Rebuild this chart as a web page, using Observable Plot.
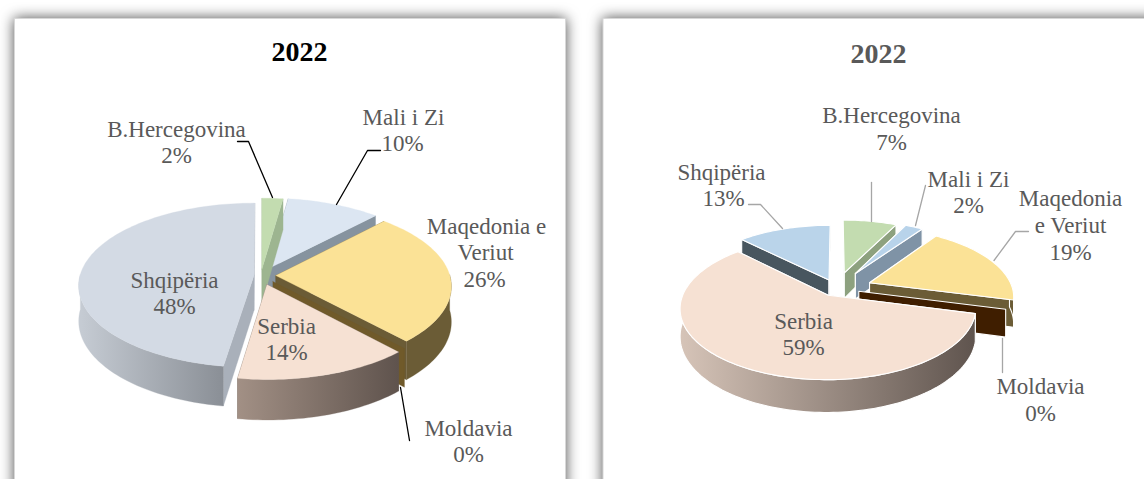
<!DOCTYPE html>
<html>
<head>
<meta charset="utf-8">
<script src="https://cdn.jsdelivr.net/npm/d3@7"></script>
<script src="https://cdn.jsdelivr.net/npm/@observablehq/plot@0.6"></script>
<style>html,body{margin:0;padding:0;background:#fff;overflow:hidden}svg{display:block}</style>
</head>
<body>
<div id="chart"></div>
<script>
// ---- data ----
const categories = ["B.Hercegovina", "Mali i Zi", "Maqedonia e Veriut", "Moldavia", "Serbia", "Shqipëria"];
const leftValues = [2.2, 9.8, 26.2, 0, 14.2, 47.6];
const rightValues = [7.3, 2.4, 19.4, 0, 58.5, 12.5];
const title = "2022";

// ---- style ----
const leftTop = ["#c3dcb0", "#dce6f2", "#fbe296", "#705a2a", "#f6e1d3", "#d3dae4"];
const leftCut = ["#9db590", "#86939f", "#6b5c36", "#705a2a", "#635750", "#a9b0ba"];
const leftWall = ["#9db590", "#86939f", "#6b5c36", "#705a2a", "url(#gL4)", "url(#gL5)"];
const rightTop = ["#c3dcb0", "#b8d3ea", "#fbe296", "#3f1e00", "#f6e1d3", "#bad4ea"];
const rightCut = ["#8da17f", "#7f93a6", "#6b5c36", "#3f1e00", "#635750", "#48565f"];
const rightWall = ["#8da17f", "#7f93a6", "#6b5c36", "#3f1e00", "url(#gR4)", "#48565f"];
const gradients = [
  ["gL4", "#a29085", "#5f534d"],
  ["gL5", "#c6ccd4", "#8a8f96"],
  ["gR4", "#d6c4b8", "#5f544e"]
];

// ---- layout ----
const leftPie = {id: "L", cx: 260.5, cy: 275, R: 174, ry: 81, k: 0.122, h: 35,
  explode: [0.08, 0.09, 0.085, 0.1, 0.115, 0.04], top: leftTop, cut: leftCut, wall: leftWall, values: leftValues};
const rightPie = {id: "R", cx: 836, cy: 288, R: 143, ry: 67, k: 0.175, h: 26.5,
  explode: [0.25, 0.27, 0.25, 0.16, 0.114, 0.14], top: rightTop, cut: rightCut, wall: rightWall, values: rightValues};
const panels = [
  {x1: 14.5, x2: 565.5, y1: 18.5, y2: 520},
  {x1: 603, x2: 1190, y1: 18.5, y2: 520}
];
const titles = [
  {text: title, x: 299, y: 52, fill: "#000000"},
  {text: title, x: 878, y: 54, fill: "#595959"}
];
const labels = [
  ["B.Hercegovina", 176, 129], ["2%", 176, 155],
  ["Mali i Zi", 403, 117], ["10%", 402, 143],
  ["Maqedonia e", 486, 226], ["Veriut", 485, 252], ["26%", 484, 279],
  ["Moldavia", 468, 428], ["0%", 468, 454],
  ["Serbia", 286, 326], ["14%", 286, 352],
  ["Shqipëria", 174, 280], ["48%", 174, 306],
  ["B.Hercegovina", 891, 115], ["7%", 891, 142],
  ["Mali i Zi", 968, 179], ["2%", 968, 205],
  ["Maqedonia", 1070, 198], ["e Veriut", 1070, 225], ["19%", 1070, 252],
  ["Shqipëria", 721, 172], ["13%", 723, 198],
  ["Serbia", 803, 321], ["59%", 803, 347],
  ["Moldavia", 1040, 386], ["0%", 1040, 413]
].map(([text, x, y]) => ({text, x, y}));
const leftLeaders = [
  [[237, 141], [248, 141], [272, 197]],
  [[380, 150], [367, 150], [336, 204]],
  [[400, 387], [409, 440]]
];
const rightLeaders = [
  [[748, 204], [760, 204], [782, 228]],
  [[871, 182], [871, 221]],
  [[925, 185], [915, 225]],
  [[1028, 231], [1015, 231], [993.5, 260]],
  [[1002, 338], [1002, 372]]
];

// ---- geometry derived from the values ----
function pieFaces(p) {
  const total = d3.sum(p.values);
  let acc = 0;
  const slices = p.values.map((v, i) => {
    const a = acc / total * 2 * Math.PI;
    acc += v;
    const b = acc / total * 2 * Math.PI;
    const mid = (a + b) / 2;
    return {i, a, b, mid, ex: Math.sin(mid) * p.explode[i], ey: -Math.cos(mid) * p.explode[i]};
  });
  const project = (s, X, Y, down) => {
    const XX = X + s.ex, YY = Y + s.ey, f = 1 / (1 - p.k * YY);
    return {x: p.cx + p.R * XX * f, y: p.cy + p.ry * YY * f + (down ? p.h * f : 0)};
  };
  const faces = [];
  const add = (id, fill, pts) => {
    const closed = [...pts, pts[0]];
    closed.forEach((q) => faces.push({id, fill, x: q.x, y: q.y}));
  };
  slices.slice().sort((s, t) => s.ey - t.ey).forEach((s) => {
    const key = `${p.id}${s.i}`;
    const edge = (t) => [Math.sin(t), -Math.cos(t)];
    const radial = (t, tag) => {
      const [X, Y] = edge(t);
      add(key + tag, p.cut[s.i], [project(s, 0, 0, false), project(s, X, Y, false), project(s, X, Y, true), project(s, 0, 0, true)]);
    };
    radial(s.a, "a");
    if (s.b > s.a) radial(s.b, "b");
    const steps = Math.max(1, Math.ceil((s.b - s.a) / (Math.PI / 120)));
    const arc = d3.range(steps + 1).map((j) => s.a + (s.b - s.a) * j / steps);
    if (s.b > s.a) {
      const front = arc.filter((t) => -Math.cos(t) > -0.03);
      if (front.length > 1) {
        const upper = front.map((t) => project(s, ...edge(t), false));
        const lower = front.map((t) => project(s, ...edge(t), true)).reverse();
        add(key + "w", p.wall[s.i], [...upper, ...lower]);
      }
      add(key + "t", p.top[s.i], [project(s, 0, 0, false), ...arc.map((t) => project(s, ...edge(t), false))]);
    }
  });
  return faces;
}
const leaderRows = (list) => list.flatMap((pts, id) => pts.map(([x, y]) => ({id, x, y})));

const defs = () => {
  const d = d3.create("svg:defs");
  gradients.forEach(([id, c0, c1]) => {
    const g = d.append("linearGradient").attr("id", id).attr("x1", 0).attr("x2", 1).attr("y1", 0).attr("y2", 0);
    g.append("stop").attr("offset", "0%").attr("stop-color", c0);
    g.append("stop").attr("offset", "100%").attr("stop-color", c1);
  });
  return d.node();
};

const font = "Liberation Serif";
const chart = Plot.plot({
  width: 1144,
  height: 479,
  margin: 0,
  x: {domain: [0, 1144], range: [0, 1144], axis: null},
  y: {domain: [0, 479], range: [0, 479], axis: null},
  color: {type: "identity"},
  marks: [
    defs,
    Plot.rect(panels, {x1: "x1", x2: "x2", y1: "y1", y2: "y2", fill: "white", stroke: "#d8d8d8", strokeWidth: 1,
      imageFilter: "drop-shadow(0 0 7px rgba(0,0,0,0.7))"}),
    Plot.line(pieFaces(leftPie), {x: "x", y: "y", z: "id", fill: "fill", stroke: "fill", strokeWidth: 0.3, curve: "linear"}),
    Plot.line(pieFaces(rightPie), {x: "x", y: "y", z: "id", fill: "fill", stroke: "white", strokeWidth: 1.1, curve: "linear"}),
    Plot.line(leaderRows(leftLeaders), {x: "x", y: "y", z: "id", stroke: "#000000", strokeWidth: 1.3}),
    Plot.line(leaderRows(rightLeaders), {x: "x", y: "y", z: "id", stroke: "#a6a6a6", strokeWidth: 1.3}),
    Plot.text(labels, {x: "x", y: "y", text: "text", fill: "#595959", fontSize: 23, fontFamily: font}),
    Plot.text(titles, {x: "x", y: "y", text: "text", fill: "fill", fontSize: 28, fontWeight: "bold", fontFamily: font})
  ]
});
document.getElementById("chart").appendChild(chart);
</script>
</body>
</html>
